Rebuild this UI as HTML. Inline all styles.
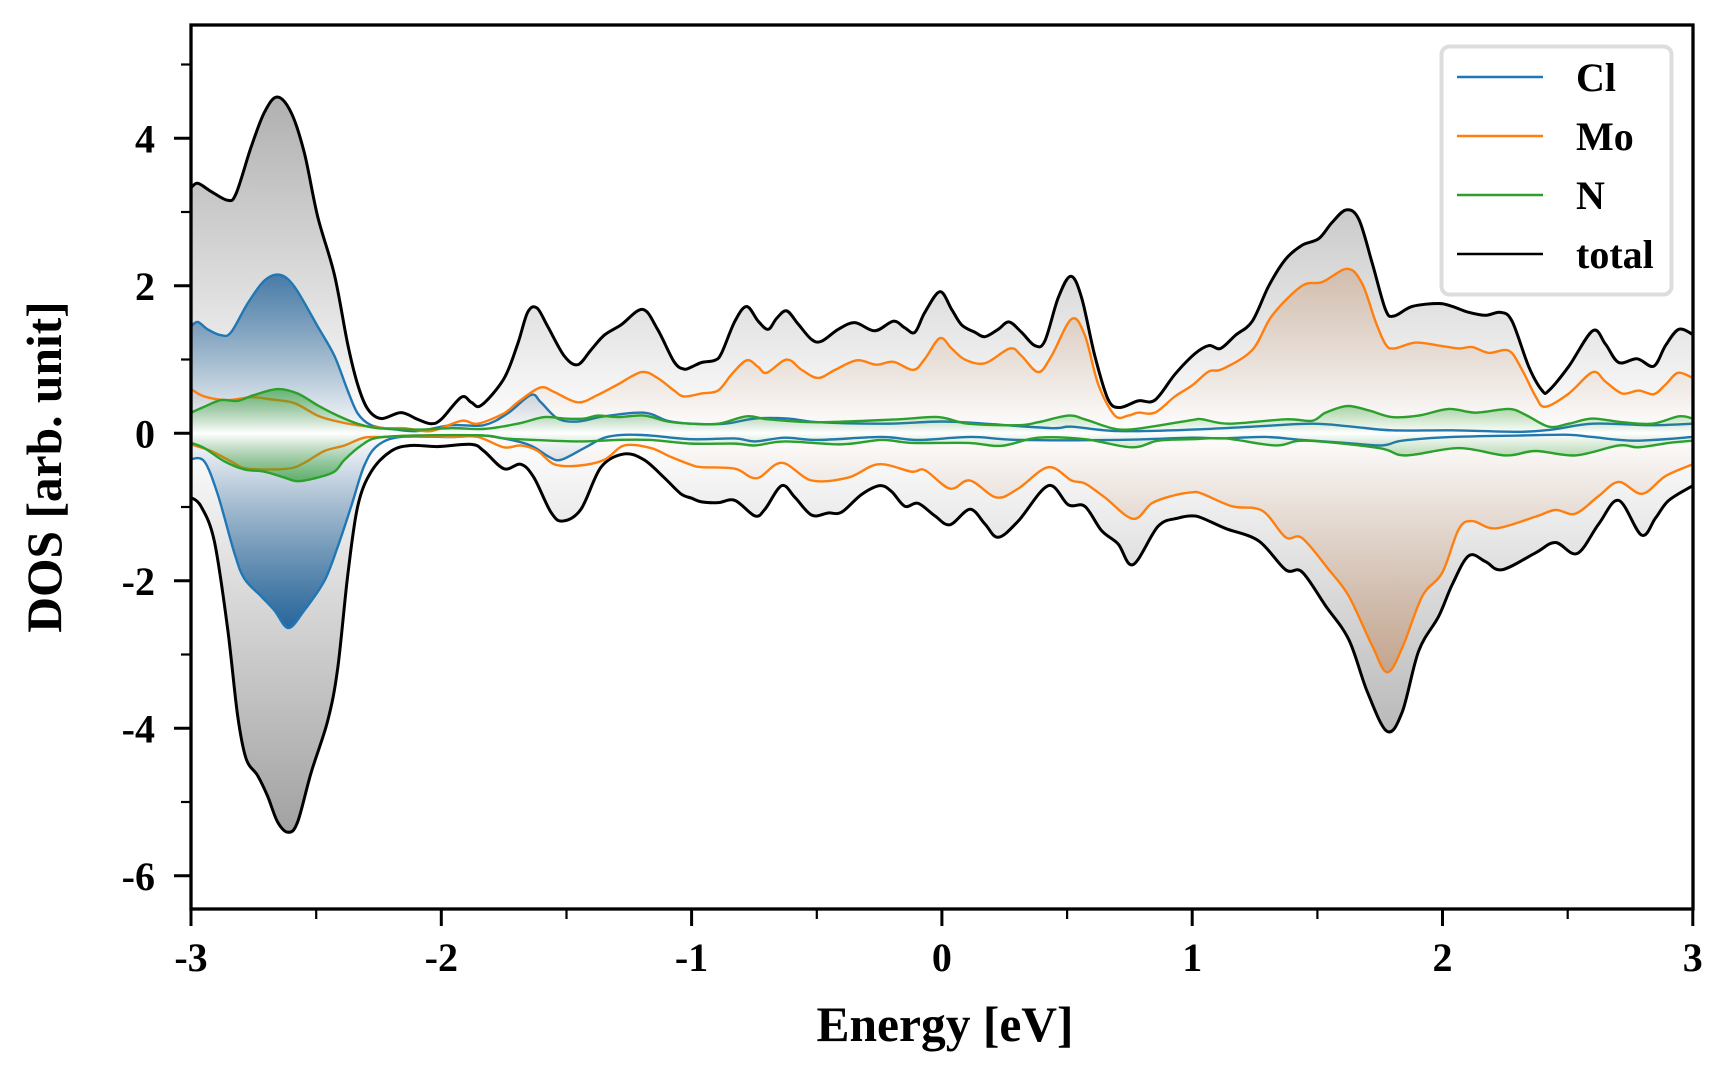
<!DOCTYPE html>
<html>
<head>
<meta charset="utf-8">
<style>
  html,body{margin:0;padding:0;background:#ffffff;}
  body{width:1728px;height:1080px;overflow:hidden;position:relative;}
  svg{position:absolute;left:0;top:0;}
  text{font-family:"Liberation Serif","Times New Roman",serif;font-weight:bold;fill:#000;}
</style>
</head>
<body>
<svg width="1728" height="1080" viewBox="0 0 1728 1080">
  <defs>
    <linearGradient id="gT" gradientUnits="userSpaceOnUse" x1="0" y1="-5.6" x2="0" y2="5.6">
      <stop offset="0" stop-color="#999999" stop-opacity="0.95"/>
      <stop offset="0.5" stop-color="#999999" stop-opacity="0"/>
      <stop offset="1" stop-color="#999999" stop-opacity="0.95"/>
    </linearGradient>
    <linearGradient id="gC" gradientUnits="userSpaceOnUse" x1="0" y1="-2.7" x2="0" y2="2.7">
      <stop offset="0" stop-color="rgb(35,100,155)" stop-opacity="1"/>
      <stop offset="0.5" stop-color="rgb(35,100,155)" stop-opacity="0"/>
      <stop offset="1" stop-color="rgb(35,100,155)" stop-opacity="1"/>
    </linearGradient>
    <linearGradient id="gM" gradientUnits="userSpaceOnUse" x1="0" y1="-3.3" x2="0" y2="3.3">
      <stop offset="0" stop-color="rgb(190,110,50)" stop-opacity="0.38"/>
      <stop offset="0.5" stop-color="rgb(190,110,50)" stop-opacity="0"/>
      <stop offset="1" stop-color="rgb(190,110,50)" stop-opacity="0.38"/>
    </linearGradient>
    <linearGradient id="gN" gradientUnits="userSpaceOnUse" x1="0" y1="-0.7" x2="0" y2="0.7">
      <stop offset="0" stop-color="rgb(44,160,44)" stop-opacity="0.72"/>
      <stop offset="0.5" stop-color="rgb(44,160,44)" stop-opacity="0"/>
      <stop offset="1" stop-color="rgb(44,160,44)" stop-opacity="0.72"/>
    </linearGradient>
    <clipPath id="clipA"><rect x="191" y="25" width="1502" height="884"/></clipPath>
  </defs>

  <g clip-path="url(#clipA)">
  <g transform="translate(941.9,433.3) scale(250.3,-73.75)">
    <!-- TOTAL -->
    <polygon class="sm" fill="url(#gT)" stroke="none" points="-3,3.33 -2.973,3.39 -2.92,3.28 -2.854,3.16 -2.82,3.25 -2.76,3.88 -2.707,4.35 -2.656,4.56 -2.6,4.35 -2.547,3.8 -2.494,2.94 -2.427,2.15 -2.374,1.21 -2.334,0.66 -2.294,0.33 -2.24,0.2 -2.161,0.28 -2.095,0.19 -2.041,0.13 -2,0.19 -1.92,0.49 -1.88,0.42 -1.84,0.38 -1.75,0.74 -1.695,1.21 -1.655,1.64 -1.618,1.7 -1.575,1.45 -1.509,1.05 -1.455,0.93 -1.402,1.13 -1.349,1.33 -1.282,1.47 -1.196,1.68 -1.136,1.41 -1.07,0.97 -1.03,0.87 -1,0.9 -0.96,0.96 -0.907,0.99 -0.88,1.09 -0.827,1.52 -0.78,1.72 -0.734,1.52 -0.694,1.41 -0.66,1.56 -0.62,1.66 -0.574,1.48 -0.52,1.27 -0.48,1.25 -0.414,1.41 -0.348,1.5 -0.268,1.39 -0.194,1.52 -0.148,1.43 -0.108,1.37 -0.068,1.64 -0.008,1.92 0.039,1.68 0.079,1.47 0.132,1.37 0.172,1.31 0.225,1.41 0.268,1.51 0.318,1.37 0.371,1.19 0.411,1.25 0.465,1.84 0.515,2.13 0.558,1.84 0.611,1.05 0.664,0.46 0.711,0.35 0.784,0.44 0.851,0.45 0.931,0.8 1.011,1.08 1.067,1.19 1.113,1.15 1.173,1.33 1.24,1.52 1.306,2 1.373,2.36 1.439,2.55 1.506,2.64 1.559,2.86 1.616,3.03 1.666,2.9 1.719,2.31 1.772,1.68 1.806,1.59 1.879,1.72 1.985,1.76 2.039,1.72 2.105,1.64 2.172,1.6 2.232,1.64 2.278,1.52 2.345,0.9 2.398,0.58 2.425,0.58 2.505,0.91 2.6,1.39 2.651,1.21 2.704,0.96 2.778,1.01 2.844,0.91 2.891,1.19 2.944,1.41 3,1.34 3,0 -3,0"/>
    <polygon class="sm" fill="url(#gT)" stroke="none" points="-3,-0.87 -2.96,-0.99 -2.907,-1.46 -2.854,-2.64 -2.814,-3.82 -2.78,-4.41 -2.734,-4.64 -2.694,-4.92 -2.654,-5.27 -2.611,-5.41 -2.574,-5.27 -2.52,-4.6 -2.454,-3.9 -2.414,-3.19 -2.374,-1.93 -2.334,-0.99 -2.28,-0.52 -2.2,-0.24 -2.121,-0.165 -2.015,-0.18 -1.88,-0.15 -1.83,-0.24 -1.75,-0.48 -1.682,-0.42 -1.63,-0.6 -1.562,-1.07 -1.515,-1.19 -1.442,-1.03 -1.362,-0.46 -1.27,-0.28 -1.19,-0.36 -1.11,-0.6 -1.043,-0.82 -1,-0.88 -0.96,-0.93 -0.893,-0.94 -0.827,-0.91 -0.747,-1.12 -0.707,-1.03 -0.64,-0.71 -0.587,-0.87 -0.52,-1.11 -0.454,-1.08 -0.401,-1.07 -0.321,-0.83 -0.248,-0.71 -0.201,-0.79 -0.148,-0.99 -0.095,-0.95 -0.028,-1.12 0.032,-1.24 0.112,-1.03 0.172,-1.23 0.225,-1.41 0.305,-1.19 0.425,-0.71 0.505,-0.97 0.571,-0.99 0.638,-1.32 0.704,-1.5 0.764,-1.78 0.864,-1.26 0.944,-1.15 1,-1.12 1.04,-1.15 1.133,-1.29 1.266,-1.46 1.373,-1.85 1.439,-1.88 1.533,-2.34 1.626,-2.8 1.699,-3.5 1.778,-4.04 1.839,-3.78 1.905,-2.95 1.985,-2.48 2.039,-2.05 2.105,-1.66 2.172,-1.74 2.238,-1.85 2.372,-1.62 2.451,-1.48 2.538,-1.63 2.624,-1.23 2.704,-0.91 2.795,-1.38 2.851,-1.15 2.904,-0.91 3,-0.71 3,0 -3,0"/>
    <polyline class="sm" fill="none" stroke="#000000" stroke-width="3" stroke-linejoin="round" vector-effect="non-scaling-stroke" points="-3,3.33 -2.973,3.39 -2.92,3.28 -2.854,3.16 -2.82,3.25 -2.76,3.88 -2.707,4.35 -2.656,4.56 -2.6,4.35 -2.547,3.8 -2.494,2.94 -2.427,2.15 -2.374,1.21 -2.334,0.66 -2.294,0.33 -2.24,0.2 -2.161,0.28 -2.095,0.19 -2.041,0.13 -2,0.19 -1.92,0.49 -1.88,0.42 -1.84,0.38 -1.75,0.74 -1.695,1.21 -1.655,1.64 -1.618,1.7 -1.575,1.45 -1.509,1.05 -1.455,0.93 -1.402,1.13 -1.349,1.33 -1.282,1.47 -1.196,1.68 -1.136,1.41 -1.07,0.97 -1.03,0.87 -1,0.9 -0.96,0.96 -0.907,0.99 -0.88,1.09 -0.827,1.52 -0.78,1.72 -0.734,1.52 -0.694,1.41 -0.66,1.56 -0.62,1.66 -0.574,1.48 -0.52,1.27 -0.48,1.25 -0.414,1.41 -0.348,1.5 -0.268,1.39 -0.194,1.52 -0.148,1.43 -0.108,1.37 -0.068,1.64 -0.008,1.92 0.039,1.68 0.079,1.47 0.132,1.37 0.172,1.31 0.225,1.41 0.268,1.51 0.318,1.37 0.371,1.19 0.411,1.25 0.465,1.84 0.515,2.13 0.558,1.84 0.611,1.05 0.664,0.46 0.711,0.35 0.784,0.44 0.851,0.45 0.931,0.8 1.011,1.08 1.067,1.19 1.113,1.15 1.173,1.33 1.24,1.52 1.306,2 1.373,2.36 1.439,2.55 1.506,2.64 1.559,2.86 1.616,3.03 1.666,2.9 1.719,2.31 1.772,1.68 1.806,1.59 1.879,1.72 1.985,1.76 2.039,1.72 2.105,1.64 2.172,1.6 2.232,1.64 2.278,1.52 2.345,0.9 2.398,0.58 2.425,0.58 2.505,0.91 2.6,1.39 2.651,1.21 2.704,0.96 2.778,1.01 2.844,0.91 2.891,1.19 2.944,1.41 3,1.34"/>
    <polyline class="sm" fill="none" stroke="#000000" stroke-width="3" stroke-linejoin="round" vector-effect="non-scaling-stroke" points="-3,-0.87 -2.96,-0.99 -2.907,-1.46 -2.854,-2.64 -2.814,-3.82 -2.78,-4.41 -2.734,-4.64 -2.694,-4.92 -2.654,-5.27 -2.611,-5.41 -2.574,-5.27 -2.52,-4.6 -2.454,-3.9 -2.414,-3.19 -2.374,-1.93 -2.334,-0.99 -2.28,-0.52 -2.2,-0.24 -2.121,-0.165 -2.015,-0.18 -1.88,-0.15 -1.83,-0.24 -1.75,-0.48 -1.682,-0.42 -1.63,-0.6 -1.562,-1.07 -1.515,-1.19 -1.442,-1.03 -1.362,-0.46 -1.27,-0.28 -1.19,-0.36 -1.11,-0.6 -1.043,-0.82 -1,-0.88 -0.96,-0.93 -0.893,-0.94 -0.827,-0.91 -0.747,-1.12 -0.707,-1.03 -0.64,-0.71 -0.587,-0.87 -0.52,-1.11 -0.454,-1.08 -0.401,-1.07 -0.321,-0.83 -0.248,-0.71 -0.201,-0.79 -0.148,-0.99 -0.095,-0.95 -0.028,-1.12 0.032,-1.24 0.112,-1.03 0.172,-1.23 0.225,-1.41 0.305,-1.19 0.425,-0.71 0.505,-0.97 0.571,-0.99 0.638,-1.32 0.704,-1.5 0.764,-1.78 0.864,-1.26 0.944,-1.15 1,-1.12 1.04,-1.15 1.133,-1.29 1.266,-1.46 1.373,-1.85 1.439,-1.88 1.533,-2.34 1.626,-2.8 1.699,-3.5 1.778,-4.04 1.839,-3.78 1.905,-2.95 1.985,-2.48 2.039,-2.05 2.105,-1.66 2.172,-1.74 2.238,-1.85 2.372,-1.62 2.451,-1.48 2.538,-1.63 2.624,-1.23 2.704,-0.91 2.795,-1.38 2.851,-1.15 2.904,-0.91 3,-0.71"/>

    <!-- Cl -->
    <polygon class="sm" fill="url(#gC)" stroke="none" points="-3,1.45 -2.973,1.51 -2.934,1.41 -2.88,1.33 -2.84,1.37 -2.774,1.76 -2.707,2.07 -2.647,2.15 -2.587,1.99 -2.494,1.45 -2.427,1.05 -2.374,0.58 -2.334,0.27 -2.28,0.11 -2.2,0.06 -2.095,0.03 -1.96,0.11 -1.83,0.11 -1.735,0.27 -1.642,0.52 -1.602,0.42 -1.535,0.2 -1.455,0.16 -1.349,0.23 -1.19,0.28 -1.097,0.17 -1,0.13 -0.867,0.13 -0.747,0.2 -0.614,0.2 -0.494,0.15 -0.228,0.13 0,0.16 0.172,0.13 0.438,0.07 0.518,0.09 0.704,0.03 1,0.05 1.24,0.09 1.479,0.13 1.639,0.09 1.799,0.04 2.039,0.04 2.305,0.02 2.438,0.05 2.6,0.13 2.838,0.11 3,0.13 3,0 -3,0"/>
    <polygon class="sm" fill="url(#gC)" stroke="none" points="-3,-0.35 -2.947,-0.38 -2.893,-0.83 -2.827,-1.62 -2.787,-1.97 -2.72,-2.21 -2.667,-2.4 -2.611,-2.64 -2.547,-2.4 -2.467,-2 -2.414,-1.54 -2.36,-0.99 -2.308,-0.44 -2.254,-0.165 -2.161,-0.05 -1.96,-0.05 -1.83,-0.03 -1.695,-0.11 -1.629,-0.19 -1.569,-0.32 -1.522,-0.36 -1.429,-0.2 -1.349,-0.06 -1.269,-0.02 -1.163,-0.03 -1,-0.08 -0.827,-0.07 -0.747,-0.11 -0.627,-0.06 -0.494,-0.09 -0.241,-0.05 -0.095,-0.09 0.119,-0.05 0.305,-0.09 0.704,-0.09 1,-0.06 1.107,-0.07 1.293,-0.05 1.439,-0.09 1.612,-0.13 1.759,-0.165 1.839,-0.1 2.039,-0.05 2.305,-0.03 2.505,-0.02 2.598,-0.05 2.771,-0.1 3,-0.05 3,0 -3,0"/>
    <polyline class="sm" fill="none" stroke="#1f77b4" stroke-width="2.4" stroke-linejoin="round" vector-effect="non-scaling-stroke" points="-3,1.45 -2.973,1.51 -2.934,1.41 -2.88,1.33 -2.84,1.37 -2.774,1.76 -2.707,2.07 -2.647,2.15 -2.587,1.99 -2.494,1.45 -2.427,1.05 -2.374,0.58 -2.334,0.27 -2.28,0.11 -2.2,0.06 -2.095,0.03 -1.96,0.11 -1.83,0.11 -1.735,0.27 -1.642,0.52 -1.602,0.42 -1.535,0.2 -1.455,0.16 -1.349,0.23 -1.19,0.28 -1.097,0.17 -1,0.13 -0.867,0.13 -0.747,0.2 -0.614,0.2 -0.494,0.15 -0.228,0.13 0,0.16 0.172,0.13 0.438,0.07 0.518,0.09 0.704,0.03 1,0.05 1.24,0.09 1.479,0.13 1.639,0.09 1.799,0.04 2.039,0.04 2.305,0.02 2.438,0.05 2.6,0.13 2.838,0.11 3,0.13"/>
    <polyline class="sm" fill="none" stroke="#1f77b4" stroke-width="2.4" stroke-linejoin="round" vector-effect="non-scaling-stroke" points="-3,-0.35 -2.947,-0.38 -2.893,-0.83 -2.827,-1.62 -2.787,-1.97 -2.72,-2.21 -2.667,-2.4 -2.611,-2.64 -2.547,-2.4 -2.467,-2 -2.414,-1.54 -2.36,-0.99 -2.308,-0.44 -2.254,-0.165 -2.161,-0.05 -1.96,-0.05 -1.83,-0.03 -1.695,-0.11 -1.629,-0.19 -1.569,-0.32 -1.522,-0.36 -1.429,-0.2 -1.349,-0.06 -1.269,-0.02 -1.163,-0.03 -1,-0.08 -0.827,-0.07 -0.747,-0.11 -0.627,-0.06 -0.494,-0.09 -0.241,-0.05 -0.095,-0.09 0.119,-0.05 0.305,-0.09 0.704,-0.09 1,-0.06 1.107,-0.07 1.293,-0.05 1.439,-0.09 1.612,-0.13 1.759,-0.165 1.839,-0.1 2.039,-0.05 2.305,-0.03 2.505,-0.02 2.598,-0.05 2.771,-0.1 3,-0.05"/>

    <!-- Mo -->
    <polygon class="sm" fill="url(#gM)" stroke="none" points="-3,0.6 -2.947,0.5 -2.854,0.45 -2.76,0.49 -2.68,0.46 -2.587,0.41 -2.494,0.24 -2.414,0.16 -2.334,0.11 -2.227,0.07 -2.147,0.07 -2.041,0.03 -1.92,0.17 -1.855,0.13 -1.75,0.27 -1.695,0.42 -1.605,0.62 -1.549,0.56 -1.455,0.42 -1.375,0.52 -1.296,0.66 -1.2,0.83 -1.136,0.75 -1.07,0.58 -1.03,0.5 -0.96,0.54 -0.894,0.58 -0.84,0.8 -0.78,0.99 -0.734,0.9 -0.7,0.82 -0.62,1 -0.56,0.86 -0.494,0.75 -0.427,0.86 -0.34,0.99 -0.261,0.93 -0.194,0.97 -0.114,0.86 -0.068,1.01 -0.008,1.29 0.039,1.15 0.092,1 0.172,0.95 0.272,1.15 0.318,1.05 0.385,0.83 0.438,1.05 0.518,1.55 0.571,1.33 0.625,0.66 0.691,0.24 0.744,0.24 0.784,0.28 0.851,0.28 0.931,0.5 1,0.65 1.067,0.84 1.12,0.87 1.24,1.13 1.32,1.6 1.439,2 1.519,2.05 1.62,2.23 1.679,2.03 1.732,1.52 1.772,1.21 1.806,1.15 1.892,1.23 1.985,1.19 2.065,1.15 2.119,1.17 2.185,1.09 2.265,1.12 2.318,0.86 2.372,0.5 2.411,0.36 2.505,0.54 2.6,0.83 2.651,0.7 2.718,0.54 2.784,0.58 2.844,0.53 2.891,0.66 2.941,0.82 3,0.75 3,0 -3,0"/>
    <polygon class="sm" fill="url(#gM)" stroke="none" points="-3,-0.15 -2.92,-0.24 -2.84,-0.38 -2.774,-0.48 -2.614,-0.48 -2.547,-0.4 -2.467,-0.24 -2.387,-0.165 -2.308,-0.06 -2.227,-0.05 -2.095,-0.03 -1.96,-0.05 -1.855,-0.05 -1.75,-0.19 -1.682,-0.165 -1.615,-0.24 -1.549,-0.42 -1.455,-0.44 -1.349,-0.36 -1.269,-0.165 -1.163,-0.2 -1.083,-0.32 -1,-0.43 -0.96,-0.46 -0.827,-0.48 -0.74,-0.61 -0.64,-0.4 -0.52,-0.64 -0.374,-0.6 -0.254,-0.42 -0.121,-0.52 -0.068,-0.5 0.032,-0.75 0.112,-0.64 0.218,-0.87 0.305,-0.75 0.425,-0.46 0.518,-0.64 0.571,-0.68 0.651,-0.87 0.764,-1.16 0.838,-0.95 0.918,-0.85 1,-0.8 1.04,-0.82 1.16,-0.99 1.28,-1.05 1.373,-1.41 1.439,-1.42 1.546,-1.85 1.626,-2.21 1.719,-2.88 1.779,-3.24 1.839,-2.91 1.919,-2.21 1.999,-1.89 2.065,-1.3 2.119,-1.19 2.212,-1.29 2.372,-1.13 2.451,-1.04 2.531,-1.09 2.624,-0.85 2.704,-0.66 2.798,-0.82 2.891,-0.58 3,-0.42 3,0 -3,0"/>
    <polyline class="sm" fill="none" stroke="#ff7f0e" stroke-width="2.4" stroke-linejoin="round" vector-effect="non-scaling-stroke" points="-3,0.6 -2.947,0.5 -2.854,0.45 -2.76,0.49 -2.68,0.46 -2.587,0.41 -2.494,0.24 -2.414,0.16 -2.334,0.11 -2.227,0.07 -2.147,0.07 -2.041,0.03 -1.92,0.17 -1.855,0.13 -1.75,0.27 -1.695,0.42 -1.605,0.62 -1.549,0.56 -1.455,0.42 -1.375,0.52 -1.296,0.66 -1.2,0.83 -1.136,0.75 -1.07,0.58 -1.03,0.5 -0.96,0.54 -0.894,0.58 -0.84,0.8 -0.78,0.99 -0.734,0.9 -0.7,0.82 -0.62,1 -0.56,0.86 -0.494,0.75 -0.427,0.86 -0.34,0.99 -0.261,0.93 -0.194,0.97 -0.114,0.86 -0.068,1.01 -0.008,1.29 0.039,1.15 0.092,1 0.172,0.95 0.272,1.15 0.318,1.05 0.385,0.83 0.438,1.05 0.518,1.55 0.571,1.33 0.625,0.66 0.691,0.24 0.744,0.24 0.784,0.28 0.851,0.28 0.931,0.5 1,0.65 1.067,0.84 1.12,0.87 1.24,1.13 1.32,1.6 1.439,2 1.519,2.05 1.62,2.23 1.679,2.03 1.732,1.52 1.772,1.21 1.806,1.15 1.892,1.23 1.985,1.19 2.065,1.15 2.119,1.17 2.185,1.09 2.265,1.12 2.318,0.86 2.372,0.5 2.411,0.36 2.505,0.54 2.6,0.83 2.651,0.7 2.718,0.54 2.784,0.58 2.844,0.53 2.891,0.66 2.941,0.82 3,0.75"/>
    <polyline class="sm" fill="none" stroke="#ff7f0e" stroke-width="2.4" stroke-linejoin="round" vector-effect="non-scaling-stroke" points="-3,-0.15 -2.92,-0.24 -2.84,-0.38 -2.774,-0.48 -2.614,-0.48 -2.547,-0.4 -2.467,-0.24 -2.387,-0.165 -2.308,-0.06 -2.227,-0.05 -2.095,-0.03 -1.96,-0.05 -1.855,-0.05 -1.75,-0.19 -1.682,-0.165 -1.615,-0.24 -1.549,-0.42 -1.455,-0.44 -1.349,-0.36 -1.269,-0.165 -1.163,-0.2 -1.083,-0.32 -1,-0.43 -0.96,-0.46 -0.827,-0.48 -0.74,-0.61 -0.64,-0.4 -0.52,-0.64 -0.374,-0.6 -0.254,-0.42 -0.121,-0.52 -0.068,-0.5 0.032,-0.75 0.112,-0.64 0.218,-0.87 0.305,-0.75 0.425,-0.46 0.518,-0.64 0.571,-0.68 0.651,-0.87 0.764,-1.16 0.838,-0.95 0.918,-0.85 1,-0.8 1.04,-0.82 1.16,-0.99 1.28,-1.05 1.373,-1.41 1.439,-1.42 1.546,-1.85 1.626,-2.21 1.719,-2.88 1.779,-3.24 1.839,-2.91 1.919,-2.21 1.999,-1.89 2.065,-1.3 2.119,-1.19 2.212,-1.29 2.372,-1.13 2.451,-1.04 2.531,-1.09 2.624,-0.85 2.704,-0.66 2.798,-0.82 2.891,-0.58 3,-0.42"/>

    <!-- N -->
    <polygon class="sm" fill="url(#gN)" stroke="none" points="-3,0.28 -2.947,0.36 -2.88,0.45 -2.814,0.44 -2.747,0.52 -2.654,0.6 -2.574,0.54 -2.494,0.38 -2.414,0.24 -2.334,0.13 -2.254,0.07 -2.095,0.05 -1.96,0.07 -1.828,0.06 -1.695,0.13 -1.589,0.22 -1.509,0.2 -1.429,0.2 -1.375,0.24 -1.296,0.22 -1.19,0.24 -1.096,0.16 -1,0.13 -0.893,0.13 -0.78,0.23 -0.694,0.19 -0.494,0.15 -0.174,0.19 -0.014,0.22 0.105,0.13 0.305,0.11 0.385,0.15 0.505,0.24 0.571,0.19 0.678,0.07 0.744,0.05 0.837,0.09 1,0.18 1.04,0.19 1.147,0.13 1.373,0.19 1.479,0.17 1.533,0.28 1.619,0.37 1.706,0.31 1.799,0.22 1.905,0.24 2.025,0.33 2.132,0.28 2.265,0.33 2.332,0.25 2.425,0.09 2.505,0.13 2.598,0.2 2.718,0.15 2.838,0.13 2.944,0.23 3,0.2 3,0 -3,0"/>
    <polygon class="sm" fill="url(#gN)" stroke="none" points="-3,-0.13 -2.947,-0.2 -2.867,-0.38 -2.787,-0.49 -2.707,-0.52 -2.627,-0.6 -2.574,-0.65 -2.494,-0.6 -2.427,-0.52 -2.387,-0.36 -2.32,-0.165 -2.254,-0.06 -2.095,-0.03 -1.828,-0.03 -1.748,-0.07 -1.562,-0.1 -1.429,-0.11 -1.296,-0.09 -1.163,-0.09 -1,-0.14 -0.827,-0.14 -0.747,-0.165 -0.627,-0.11 -0.401,-0.15 -0.241,-0.09 -0.121,-0.13 0.105,-0.13 0.238,-0.17 0.385,-0.06 0.571,-0.08 0.758,-0.19 0.864,-0.1 1,-0.08 1.133,-0.07 1.333,-0.165 1.453,-0.1 1.746,-0.2 1.852,-0.3 2.065,-0.2 2.252,-0.3 2.372,-0.24 2.531,-0.3 2.704,-0.165 2.784,-0.19 2.904,-0.13 3,-0.1 3,0 -3,0"/>
    <polyline class="sm" fill="none" stroke="#2ca02c" stroke-width="2.4" stroke-linejoin="round" vector-effect="non-scaling-stroke" points="-3,0.28 -2.947,0.36 -2.88,0.45 -2.814,0.44 -2.747,0.52 -2.654,0.6 -2.574,0.54 -2.494,0.38 -2.414,0.24 -2.334,0.13 -2.254,0.07 -2.095,0.05 -1.96,0.07 -1.828,0.06 -1.695,0.13 -1.589,0.22 -1.509,0.2 -1.429,0.2 -1.375,0.24 -1.296,0.22 -1.19,0.24 -1.096,0.16 -1,0.13 -0.893,0.13 -0.78,0.23 -0.694,0.19 -0.494,0.15 -0.174,0.19 -0.014,0.22 0.105,0.13 0.305,0.11 0.385,0.15 0.505,0.24 0.571,0.19 0.678,0.07 0.744,0.05 0.837,0.09 1,0.18 1.04,0.19 1.147,0.13 1.373,0.19 1.479,0.17 1.533,0.28 1.619,0.37 1.706,0.31 1.799,0.22 1.905,0.24 2.025,0.33 2.132,0.28 2.265,0.33 2.332,0.25 2.425,0.09 2.505,0.13 2.598,0.2 2.718,0.15 2.838,0.13 2.944,0.23 3,0.2"/>
    <polyline class="sm" fill="none" stroke="#2ca02c" stroke-width="2.4" stroke-linejoin="round" vector-effect="non-scaling-stroke" points="-3,-0.13 -2.947,-0.2 -2.867,-0.38 -2.787,-0.49 -2.707,-0.52 -2.627,-0.6 -2.574,-0.65 -2.494,-0.6 -2.427,-0.52 -2.387,-0.36 -2.32,-0.165 -2.254,-0.06 -2.095,-0.03 -1.828,-0.03 -1.748,-0.07 -1.562,-0.1 -1.429,-0.11 -1.296,-0.09 -1.163,-0.09 -1,-0.14 -0.827,-0.14 -0.747,-0.165 -0.627,-0.11 -0.401,-0.15 -0.241,-0.09 -0.121,-0.13 0.105,-0.13 0.238,-0.17 0.385,-0.06 0.571,-0.08 0.758,-0.19 0.864,-0.1 1,-0.08 1.133,-0.07 1.333,-0.165 1.453,-0.1 1.746,-0.2 1.852,-0.3 2.065,-0.2 2.252,-0.3 2.372,-0.24 2.531,-0.3 2.704,-0.165 2.784,-0.19 2.904,-0.13 3,-0.1"/>
  </g>
  </g>

  <!-- Legend -->
  <rect x="1441.5" y="46.5" width="230" height="248" rx="8" ry="8" fill="#ffffff" fill-opacity="0.85" stroke="#dddddd" stroke-width="4"/>
  <line x1="1457" y1="77" x2="1543" y2="77" stroke="#1f77b4" stroke-width="2.4"/>
  <line x1="1457" y1="136" x2="1543" y2="136" stroke="#ff7f0e" stroke-width="2.4"/>
  <line x1="1457" y1="195" x2="1543" y2="195" stroke="#2ca02c" stroke-width="2.4"/>
  <line x1="1457" y1="254" x2="1543" y2="254" stroke="#000000" stroke-width="2.4"/>
  <text x="1576" y="91" font-size="40">Cl</text>
  <text x="1576" y="150" font-size="40">Mo</text>
  <text x="1576" y="209" font-size="40">N</text>
  <text x="1576" y="268" font-size="40">total</text>

  <!-- Axes frame -->
  <rect x="191" y="25" width="1502" height="884" fill="none" stroke="#000" stroke-width="3.3"/>

  <!-- Y ticks -->
  <g stroke="#000" stroke-width="3">
    <line x1="174" y1="138.3" x2="191" y2="138.3"/>
    <line x1="174" y1="285.8" x2="191" y2="285.8"/>
    <line x1="174" y1="433.3" x2="191" y2="433.3"/>
    <line x1="174" y1="580.8" x2="191" y2="580.8"/>
    <line x1="174" y1="728.3" x2="191" y2="728.3"/>
    <line x1="174" y1="875.8" x2="191" y2="875.8"/>
  </g>
  <g stroke="#000" stroke-width="2.2">
    <line x1="181" y1="64.5" x2="191" y2="64.5"/>
    <line x1="181" y1="212" x2="191" y2="212"/>
    <line x1="181" y1="359.5" x2="191" y2="359.5"/>
    <line x1="181" y1="507" x2="191" y2="507"/>
    <line x1="181" y1="654.5" x2="191" y2="654.5"/>
    <line x1="181" y1="802" x2="191" y2="802"/>
  </g>
  <g font-size="40" text-anchor="end">
    <text x="155" y="152.3">4</text>
    <text x="155" y="299.8">2</text>
    <text x="155" y="447.3">0</text>
    <text x="155" y="594.8">-2</text>
    <text x="155" y="742.3">-4</text>
    <text x="155" y="889.8">-6</text>
  </g>

  <!-- X ticks -->
  <g stroke="#000" stroke-width="3">
    <line x1="191" y1="909" x2="191" y2="926"/>
    <line x1="441.3" y1="909" x2="441.3" y2="926"/>
    <line x1="691.6" y1="909" x2="691.6" y2="926"/>
    <line x1="941.9" y1="909" x2="941.9" y2="926"/>
    <line x1="1192.2" y1="909" x2="1192.2" y2="926"/>
    <line x1="1442.5" y1="909" x2="1442.5" y2="926"/>
    <line x1="1692.8" y1="909" x2="1692.8" y2="926"/>
  </g>
  <g stroke="#000" stroke-width="2.2">
    <line x1="316.2" y1="909" x2="316.2" y2="919"/>
    <line x1="566.5" y1="909" x2="566.5" y2="919"/>
    <line x1="816.8" y1="909" x2="816.8" y2="919"/>
    <line x1="1067.1" y1="909" x2="1067.1" y2="919"/>
    <line x1="1317.4" y1="909" x2="1317.4" y2="919"/>
    <line x1="1567.7" y1="909" x2="1567.7" y2="919"/>
  </g>
  <g font-size="40" text-anchor="middle">
    <text x="191" y="971">-3</text>
    <text x="441.3" y="971">-2</text>
    <text x="691.6" y="971">-1</text>
    <text x="941.9" y="971">0</text>
    <text x="1192.2" y="971">1</text>
    <text x="1442.5" y="971">2</text>
    <text x="1692.8" y="971">3</text>
  </g>

  <!-- Axis labels -->
  <text x="945" y="1041" font-size="49.5" text-anchor="middle">Energy [eV]</text>
  <text transform="translate(61,467) rotate(-90)" font-size="49.5" text-anchor="middle">DOS [arb. unit]</text>
</svg>
<script>
(function(){
  try{
    var els = document.querySelectorAll('.sm');
    for (var n=0;n<els.length;n++){
      var el = els[n];
      var isPoly = el.tagName.toLowerCase()==='polygon';
      var nums = el.getAttribute('points').trim().split(/[\s,]+/).map(Number);
      var p=[]; for(var i=0;i<nums.length;i+=2){p.push([nums[i],nums[i+1]]);}
      var tail=[];
      if(isPoly){tail=p.splice(p.length-2,2);}
      var d='M'+p[0][0]+','+p[0][1];
      for(var j=0;j<p.length-1;j++){
        var p0=p[j-1]||p[j], p1=p[j], p2=p[j+1], p3=p[j+2]||p[j+1];
        var c1x=p1[0]+(p2[0]-p0[0])/6, c1y=p1[1]+(p2[1]-p0[1])/6;
        var c2x=p2[0]-(p3[0]-p1[0])/6, c2y=p2[1]-(p3[1]-p1[1])/6;
        d+='C'+c1x.toFixed(4)+','+c1y.toFixed(4)+' '+c2x.toFixed(4)+','+c2y.toFixed(4)+' '+p2[0]+','+p2[1];
      }
      if(isPoly){d+='L'+tail[0][0]+','+tail[0][1]+'L'+tail[1][0]+','+tail[1][1]+'Z';}
      var path=document.createElementNS(el.namespaceURI,'path');
      for(var k=0;k<el.attributes.length;k++){
        var a=el.attributes[k];
        if(a.name!=='points'&&a.name!=='class'){path.setAttribute(a.name,a.value);}
      }
      path.setAttribute('d',d);
      el.parentNode.replaceChild(path,el);
    }
  }catch(e){}
})();
</script>
</body>
</html>
